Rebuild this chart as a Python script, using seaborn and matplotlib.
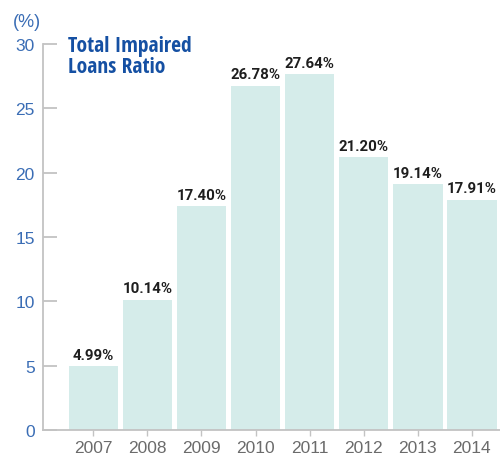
import matplotlib
matplotlib.use("Agg")
import matplotlib.pyplot as plt
import seaborn as sns
import pandas as pd

years = ["2007", "2008", "2009", "2010", "2011", "2012", "2013", "2014"]
ratios = [4.99, 10.14, 17.40, 26.78, 27.64, 21.20, 19.14, 17.91]
labels = ["4.99%", "10.14%", "17.40%", "26.78%", "27.64%", "21.20%", "19.14%", "17.91%"]
yticks = [0, 5, 10, 15, 20, 25, 30]

sns.set_style("white")
plt.rcParams['font.family'] = ['Liberation Sans', 'DejaVu Sans']
COND = ['Open Sans Condensed', 'Liberation Sans', 'DejaVu Sans']
LBL = ['Roboto', 'Liberation Sans', 'DejaVu Sans']

df = pd.DataFrame({"year": years, "ratio": ratios})

fig = plt.figure(figsize=(5.0, 4.56), dpi=100)
ax = fig.add_axes([0.086, 0.055, 0.914, 0.846])

sns.barplot(data=df, x="year", y="ratio", color="#d5ecea", saturation=1,
            width=0.915, ax=ax, edgecolor="none")

ax.set_ylim(0, 30)
ax.set_xlim(-0.93, 7.52)
ax.set_yticks(yticks)
ax.set_xlabel("")
ax.set_ylabel("")

spine_c = "#c3c3c3"
for s in ["top", "right"]:
    ax.spines[s].set_visible(False)
for s in ["left", "bottom"]:
    ax.spines[s].set_color(spine_c)
    ax.spines[s].set_linewidth(1.3)

ax.tick_params(axis="y", direction="in", length=10, width=1.3, color=spine_c,
               labelcolor="#3a6db5", labelsize=12.5, pad=6, left=True)
ax.tick_params(axis="x", direction="out", length=4, width=1, color=spine_c,
               labelcolor="#6b6b6b", labelsize=12.5, pad=3, bottom=True)

for i, (v, t) in enumerate(zip(ratios, labels)):
    ax.annotate(t, (i, v), xytext=(0, 3), textcoords="offset points",
                ha="center", va="bottom", fontsize=10.8, fontweight="bold",
                color="#1e1e1e", family=LBL)

fig.text(0.026, 0.932, "(%)", color="#3a6db5", fontsize=13, ha="left", va="bottom")
fig.text(0.135, 0.922, "Total Impaired\nLoans Ratio", color="#1550a3", fontsize=15.5,
         fontweight="bold", ha="left", va="top", linespacing=1.0, family=COND)

fig.savefig("out.png", dpi=100)
